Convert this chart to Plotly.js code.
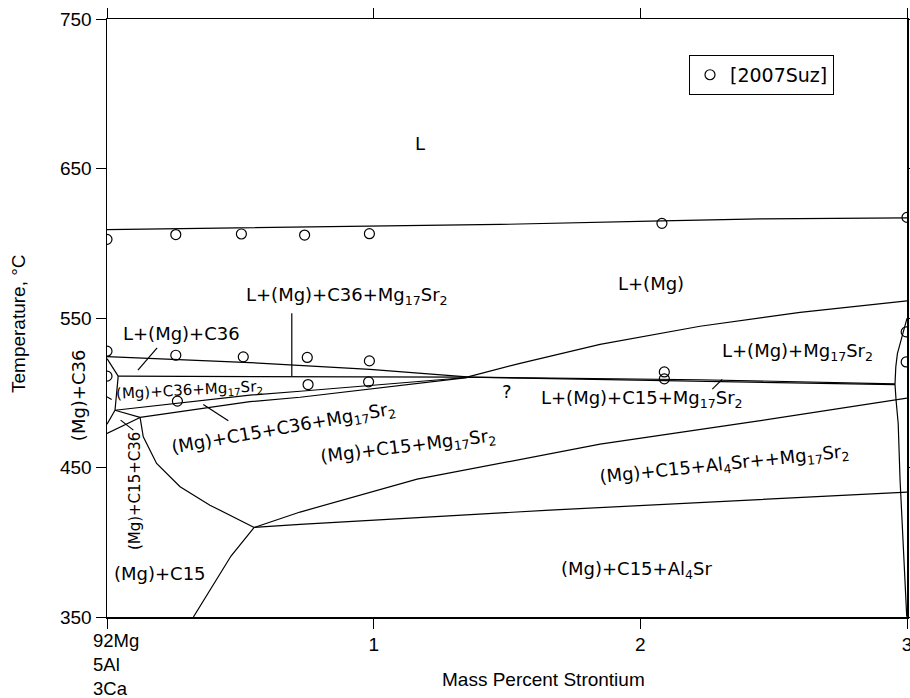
<!DOCTYPE html>
<html><head><meta charset="utf-8">
<script src="https://cdn.plot.ly/plotly-3.0.1.min.js"></script>
<style>body{margin:0;background:#fff}</style>
</head><body>
<div id="chart" style="width:910px;height:698px"></div>
<script>
// ---- data (Mass % Sr, Temperature °C) ----
const xTickVals = [0, 1, 2, 3];
const xTickText = ['', '1', '2', '3'];
const yTickVals = [350, 450, 550, 650, 750];

// experimental points [2007Suz]
const suzX = [0, 0.258, 0.504, 0.741, 0.984, 2.081, 3.0,
              0, 0.258, 0.511, 0.751, 0.984,
              0, 0.754, 0.981, 0.264, 2.09, 2.09, 2.997, 2.997];
const suzY = [602.6, 605.8, 606.2, 605.5, 606.4, 613.3, 617.3,
              527.8, 525.1, 524.0, 523.6, 521.3,
              511.1, 505.5, 507.3, 494.4, 513.9, 509.3, 540.7, 520.6];

// phase boundaries
const liqX = [0, 1.474, 2.081, 2.449, 3.0];
const liqY = [609.1, 612.6, 615.0, 616.3, 617.0];
const c36TopX = [0, 0.536, 0.986, 1.35];
const c36TopY = [524.1, 520.2, 515.7, 510.6];
const invUpX = [0.042, 1.35, 2.224, 2.955];
const invUpY = [511.1, 510.4, 508.7, 506.0];
const invLowX = [1.35, 1.849, 2.599, 2.955];
const invLowY = [510.4, 508.7, 506.4, 505.4];
const lmgX = [1.35, 1.549, 1.849, 2.224, 2.599, 3.0];
const lmgY = [510.4, 519.7, 532.4, 544.5, 553.8, 561.4];
const cornerX = [0, 0.042];
const cornerY = [522.8, 511.1];
const triLeftX = [0.042, 0.030];
const triLeftY = [511.1, 488.3];
const aEdgeX = [0.030, 0];
const aEdgeY = [488.3, 479.0];
const abX = [0.030, 0.124];
const abY = [488.3, 483.5];
const bEdgeX = [0.124, 0];
const bEdgeY = [483.5, 472.8];
const aConvX = [0.030, 0.536, 0.724, 1.35];
const aConvY = [488.3, 498.4, 501.0, 510.2];
const bConvX = [0.124, 0.536, 0.724, 1.35];
const bConvY = [483.5, 494.0, 497.0, 510.1];
const c15CurveX = [0.124, 0.136, 0.186, 0.274, 0.386, 0.552];
const c15CurveY = [483.5, 470.5, 452.7, 437.1, 424.8, 409.9];
const dDownX = [0.552, 0.465, 0.324];
const dDownY = [409.9, 390.8, 350];
const dUpperX = [0.552, 0.724, 1.163, 1.849, 2.4375, 3.0];
const dUpperY = [409.9, 420.2, 442.2, 465.6, 481.0, 496.4];
const dLowerX = [0.552, 0.724, 1.661, 2.971, 3.0];
const dLowerY = [409.9, 412.0, 421.5, 433.7, 433.5];
const rightX = [3.0, 2.980, 2.964, 2.958, 2.955, 2.959, 2.967, 2.974, 2.986, 2.999];
const rightY = [549.8, 536.2, 526.2, 517.3, 505.7, 495.0, 479.4, 441.6, 397.0, 350.2];

// label pointer lines
const ptrC36X = [0.116, 0.188];
const ptrC36Y = [515.1, 530.0];
const ptrMgC36X = [-0.045, 0.0176];
const ptrMgC36Y = [501.7, 495.5];
const ptrC15C36X = [0.051, 0.099];
const ptrC15C36Y = [481.7, 475.0];
const ptrFourX = [0.361, 0.455];
const ptrFourY = [492.1, 481.2];
const ptrLC15X = [2.270, 2.307];
const ptrLC15Y = [502.4, 508.9];
const ptrVertX = [0.693, 0.693];
const ptrVertY = [553.2, 511.1];

const boundaries = [
  [liqX, liqY], [c36TopX, c36TopY], [invUpX, invUpY], [invLowX, invLowY],
  [lmgX, lmgY], [cornerX, cornerY], [triLeftX, triLeftY], [aEdgeX, aEdgeY],
  [abX, abY], [bEdgeX, bEdgeY], [aConvX, aConvY], [bConvX, bConvY],
  [c15CurveX, c15CurveY], [dDownX, dDownY], [dUpperX, dUpperY],
  [dLowerX, dLowerY], [rightX, rightY],
  [ptrC36X, ptrC36Y], [ptrC15C36X, ptrC15C36Y], [ptrFourX, ptrFourY],
  [ptrLC15X, ptrLC15Y], [ptrVertX, ptrVertY]
];

const traces = boundaries.map(([x, y]) => ({
  x: x, y: y, type: 'scatter', mode: 'lines',
  line: {color: 'black', width: 1.2}, showlegend: false, hoverinfo: 'skip'
}));
traces.push({
  x: ptrMgC36X, y: ptrMgC36Y, type: 'scatter', mode: 'lines', cliponaxis: false,
  line: {color: 'black', width: 1.2}, showlegend: false, hoverinfo: 'skip'
});
traces.push({
  x: suzX, y: suzY, type: 'scatter', mode: 'markers', name: '[2007Suz]',
  marker: {symbol: 'circle-open', size: 10, color: 'black', line: {width: 1.2, color: 'black'}},
  showlegend: true
});

const lf = {family: 'DejaVu Sans', size: 18, color: 'black'};
const sf = {family: 'DejaVu Sans', size: 15, color: 'black'};
const af = {family: 'Liberation Sans, Arial, sans-serif', size: 19, color: 'black'};
function lab(text, x, y, font, angle) {
  return {text: text, x: x, y: y, xref: 'x', yref: 'y', showarrow: false,
          font: font, textangle: angle || 0, xanchor: 'center', yanchor: 'middle'};
}
const annotations = [
  lab('L', 1.174, 666.8, lf),
  lab('L+(Mg)', 2.040, 573.2, lf),
  lab('L+(Mg)+C36+Mg<sub>17</sub>Sr<sub>2</sub>', 0.900, 565.0, lf),
  lab('L+(Mg)+C36', 0.281, 539.8, lf),
  lab('(Mg)+C36+Mg<sub>17</sub>Sr<sub>2</sub>', 0.311, 501.5, sf, -3),
  {text: '(Mg)+C36', xref: 'paper', yref: 'y', x: -0.03625, y: 498.4, showarrow: false,
   font: lf, textangle: -90, xanchor: 'center', yanchor: 'middle'},
  lab('(Mg)+C15+C36', 0.105, 434.2, sf, -90),
  lab('(Mg)+C15+C36+Mg<sub>17</sub>Sr<sub>2</sub>', 0.66, 476.0, lf, -10),
  lab('(Mg)+C15+Mg<sub>17</sub>Sr<sub>2</sub>', 1.129, 464.0, lf, -7),
  lab('L+(Mg)+C15+Mg<sub>17</sub>Sr<sub>2</sub>', 2.006, 495.5, lf),
  lab('L+(Mg)+Mg<sub>17</sub>Sr<sub>2</sub>', 2.591, 527.5, lf),
  lab('(Mg)+C15+Al<sub>4</sub>Sr++Mg<sub>17</sub>Sr<sub>2</sub>', 2.314, 452.0, lf, -6),
  lab('(Mg)+C15+Al<sub>4</sub>Sr', 1.984, 381.5, lf),
  lab('(Mg)+C15', 0.199, 379.4, lf),
  lab('?', 1.5, 501.0, lf),
  {text: '92Mg<br>5Al<br>3Ca', xref: 'paper', yref: 'paper', x: -0.02, y: -0.018,
   xanchor: 'left', yanchor: 'top', align: 'left', showarrow: false,
   font: {family: 'Liberation Sans, Arial, sans-serif', size: 18.5, color: 'black'}},
  {text: 'Mass Percent Strontium', xref: 'paper', yref: 'paper', x: 0.545, y: -0.105,
   xanchor: 'center', yanchor: 'middle', showarrow: false, font: af},
  {text: 'Temperature, °C', xref: 'paper', yref: 'paper', x: -0.11, y: 0.49,
   xanchor: 'center', yanchor: 'middle', textangle: -90, showarrow: false, font: af}
];

const axisCommon = {
  ticks: 'outside', ticklen: 10, tickwidth: 1, tickcolor: 'black',
  showline: true, linecolor: 'black', linewidth: 1.5, mirror: 'ticks',
  showgrid: false, zeroline: false, tickfont: af, ticklabeloverflow: 'allow'
};
const layout = {
  width: 910, height: 698,
  margin: {l: 107, r: 3, t: 19, b: 81},
  paper_bgcolor: 'white', plot_bgcolor: 'white',
  xaxis: Object.assign({range: [0, 3], tickvals: xTickVals, ticktext: xTickText}, axisCommon),
  yaxis: Object.assign({range: [350, 750], tickvals: yTickVals}, axisCommon),
  showlegend: true,
  legend: {x: 0.7275, y: 0.94, xanchor: 'left', yanchor: 'top',
           bordercolor: 'black', borderwidth: 1, bgcolor: 'white',
           font: {family: 'DejaVu Sans', size: 19, color: 'black'}},
  annotations: annotations
};
Plotly.newPlot('chart', traces, layout, {staticPlot: true});
</script>
</body></html>
